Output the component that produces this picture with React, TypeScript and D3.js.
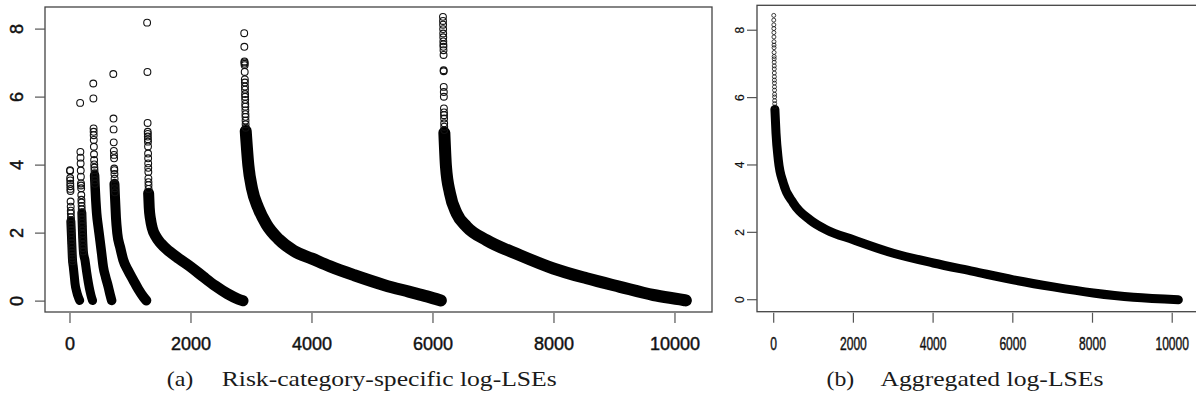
import React, { useEffect, useRef } from 'react';
import * as d3 from 'd3';

// tick values shared by both panels
const xTicks = [0, 2000, 4000, 6000, 8000, 10000];
const yTicks = [0, 2, 4, 6, 8];

// (a) risk-category-specific log-LSEs, [rank, value]
// sparse = isolated circles at the top of each category, band = dense part
const cat1Sparse = [[1, 3.85], [2, 3.83], [3, 3.62], [4, 3.55], [5, 3.45], [6, 3.38], [7, 3.3], [8, 3.24], [10, 2.93], [12, 2.78], [13, 2.66], [14, 2.58], [16, 2.47], [17, 2.38], [19, 2.27], [20, 2.18], [22, 2.09], [23, 2.0], [25, 1.9], [27, 1.8], [29, 1.7], [31, 1.6], [33, 1.5], [35, 1.42], [37, 1.33], [39, 1.25], [42, 1.17]];
const cat1Band = [[14, 2.35], [22, 2.0], [30, 1.68], [40, 1.25], [55, 1.0], [70, 0.75], [83, 0.52], [110, 0.28], [137, 0.12], [160, 0.02]];

const cat2Sparse = [[168, 5.83], [172, 4.39], [174, 4.22], [176, 4.05], [178, 3.84], [180, 3.66], [182, 3.46], [183, 3.4], [185, 3.32], [187, 3.12], [189, 2.98], [190, 2.9], [192, 2.8], [194, 2.7], [196, 2.6], [198, 2.5], [200, 2.4], [202, 2.3], [204, 2.2], [206, 2.08], [208, 1.98], [210, 1.88], [212, 1.77], [214, 1.66], [216, 1.56], [218, 1.46]];
const cat2Band = [[196, 2.6], [206, 2.05], [214, 1.7], [222, 1.45], [248, 1.2], [275, 0.86], [303, 0.55], [330, 0.3], [358, 0.1], [373, 0.02]];

const cat3Sparse = [[385, 6.4], [387, 5.96], [390, 5.08], [391, 4.98], [392, 4.88], [393, 4.74], [395, 4.54], [397, 4.32], [399, 4.15], [401, 4.02], [403, 3.93], [405, 3.85], [407, 3.76], [409, 3.66], [411, 3.55], [413, 3.45]];
const cat3Band = [[407, 3.7], [415, 3.36], [427, 2.95], [441, 2.58], [468, 2.17], [496, 1.79], [523, 1.4], [550, 1.01], [590, 0.7], [633, 0.42], [665, 0.18], [689, 0.02]];

const cat4Sparse = [[716, 6.68], [719, 5.37], [721, 5.05], [723, 4.67], [725, 4.42], [727, 4.3], [729, 4.2], [731, 3.9], [733, 3.85], [735, 3.74], [737, 3.6], [739, 3.45], [741, 3.32], [743, 3.2]];
const cat4Band = [[735, 3.45], [744, 3.05], [760, 2.45], [782, 1.99], [830, 1.58], [881, 1.21], [960, 0.9], [1046, 0.62], [1130, 0.35], [1212, 0.13], [1262, 0.02]];

const cat5Sparse = [[1275, 8.19], [1280, 6.74], [1283, 5.24], [1285, 4.98], [1286, 4.92], [1287, 4.84], [1288, 4.76], [1289, 4.69], [1290, 4.55], [1291, 4.34], [1292, 4.2], [1293, 4.05], [1294, 3.92], [1295, 3.8], [1296, 3.61], [1297, 3.5], [1298, 3.41], [1299, 3.3]];
const cat5Band = [[1300, 3.17], [1310, 2.75], [1330, 2.42], [1360, 2.15], [1420, 1.9], [1500, 1.7], [1650, 1.45], [1800, 1.25], [2000, 1.0], [2200, 0.72], [2400, 0.45], [2600, 0.22], [2780, 0.06], [2860, 0.01]];

const cat6Sparse = [[2880, 7.88], [2882, 7.48], [2884, 7.05], [2885, 7.02], [2886, 6.98], [2887, 6.94], [2888, 6.74], [2890, 6.52], [2891, 6.43], [2892, 6.31], [2893, 6.22], [2894, 6.09], [2895, 6.01], [2896, 5.92], [2897, 5.8], [2898, 5.72], [2899, 5.61], [2900, 5.5], [2901, 5.42], [2902, 5.31], [2903, 5.2], [2904, 5.1]];
const cat6Band = [[2905, 5.0], [2948, 4.0], [3010, 3.3], [3110, 2.75], [3250, 2.25], [3450, 1.82], [3700, 1.48], [4000, 1.25], [4300, 1.02], [4700, 0.76], [5200, 0.47], [5600, 0.28], [5900, 0.14], [6130, 0.02]];

const cat7Sparse = [[6165, 8.36], [6166, 8.24], [6167, 8.13], [6168, 8.0], [6169, 7.87], [6170, 7.76], [6171, 7.64], [6172, 7.55], [6173, 7.48], [6174, 7.38], [6175, 7.24], [6176, 6.79], [6177, 6.76], [6178, 6.3], [6179, 6.15], [6180, 6.01], [6181, 5.67], [6182, 5.55], [6183, 5.47], [6184, 5.37], [6185, 5.23], [6186, 5.13], [6187, 5.03]];
const cat7Band = [[6188, 4.95], [6215, 3.95], [6281, 3.17], [6391, 2.58], [6557, 2.19], [6887, 1.79], [7438, 1.35], [7989, 0.96], [8540, 0.67], [9091, 0.42], [9642, 0.18], [10083, 0.05], [10180, 0.02]];

// (b) aggregated log-LSEs
const aggSparse = [[1, 8.44], [2, 8.3], [3, 8.16], [4, 8.05], [5, 7.93], [6, 7.8], [7, 7.66], [8, 7.56], [9, 7.48], [10, 7.34], [11, 7.22], [12, 7.15], [13, 7.05], [14, 6.94], [15, 6.85], [16, 6.73], [17, 6.62], [18, 6.52], [19, 6.43], [20, 6.32], [21, 6.22], [22, 6.1], [23, 6.02], [24, 5.91], [25, 5.82], [27, 5.72]];
const aggBand = [[30, 5.65], [58, 4.94], [116, 4.15], [241, 3.46], [492, 2.87], [911, 2.37], [1330, 2.07], [1998, 1.78], [3002, 1.38], [4005, 1.09], [5009, 0.84], [6013, 0.59], [7016, 0.38], [8020, 0.2], [9024, 0.07], [10154, 0.0]];

const captionA = ['(a)', 'Risk-category-specific log-LSEs'];
const captionB = ['(b)', 'Aggregated log-LSEs'];

const App = () => {
  const svgRef = useRef<SVGSVGElement>(null);

  useEffect(() => {
    drawChart();
  }, []);

  const drawChart = () => {
    const svg = d3.select(svgRef.current);
    svg.selectAll('*').remove();

    const sans = '"Liberation Sans", Arial, sans-serif';
    const serif = '"Liberation Serif", "DejaVu Serif", serif';

    const drawPanel = (opts: any) => {
      const { x, y, box, sparse, bands, r, bandWidths, yLabelX, yLabelSize, xLabelScale } = opts;
      const g = svg.append('g');

      const line = d3.line<number[]>()
        .x(d => x(d[0]))
        .y(d => y(d[1]))
        .curve(d3.curveMonotoneX);

      bands.forEach((b: number[][], i: number) => {
        g.append('path')
          .datum(b)
          .attr('fill', 'none')
          .attr('stroke', '#000')
          .attr('stroke-width', bandWidths[i])
          .attr('stroke-linecap', 'round')
          .attr('stroke-linejoin', 'round')
          .attr('d', line);
      });

      g.selectAll('circle.pt')
        .data(sparse)
        .enter()
        .append('circle')
        .attr('class', 'pt')
        .attr('cx', (d: number[]) => x(d[0]))
        .attr('cy', (d: number[]) => y(d[1]))
        .attr('r', r)
        .attr('fill', 'none')
        .attr('stroke', '#111')
        .attr('stroke-width', r > 3 ? 1.1 : 0.8);

      // box
      g.append('rect')
        .attr('x', box.left)
        .attr('y', box.top)
        .attr('width', box.right - box.left)
        .attr('height', box.bottom - box.top)
        .attr('fill', 'none')
        .attr('stroke', '#444')
        .attr('stroke-width', 1.3);

      // x axis
      xTicks.forEach(t => {
        g.append('line')
          .attr('x1', x(t)).attr('x2', x(t))
          .attr('y1', box.bottom + 1).attr('y2', box.bottom + 11)
          .attr('stroke', '#555').attr('stroke-width', 1.2);
        g.append('text')
          .attr('transform', `translate(${x(t)},350) scale(${xLabelScale},1)`)
          .attr('text-anchor', 'middle')
          .attr('font-family', sans)
          .attr('font-size', 18)
          .attr('fill', '#111')
          .attr('stroke', '#111')
          .attr('stroke-width', 0.45)
          .text(t);
      });

      // y axis
      yTicks.forEach(t => {
        g.append('line')
          .attr('x1', box.left - 10).attr('x2', box.left)
          .attr('y1', y(t)).attr('y2', y(t))
          .attr('stroke', '#555').attr('stroke-width', 1.2);
        g.append('text')
          .attr('transform', `translate(${yLabelX},${y(t)}) rotate(-90)`)
          .attr('text-anchor', 'middle')
          .attr('font-family', sans)
          .attr('font-size', yLabelSize)
          .attr('fill', '#111')
          .attr('stroke', '#111')
          .attr('stroke-width', yLabelSize > 14 ? 0.45 : 0.2)
          .text(t);
      });
    };

    const xL = d3.scaleLinear().domain([-413, 10612]).range([45, 712]);
    const yL = d3.scaleLinear().domain([-0.32, 8.65]).range([312, 7]);
    drawPanel({
      x: xL, y: yL,
      box: { left: 45, right: 712, top: 7, bottom: 312 },
      sparse: [...cat1Sparse, ...cat2Sparse, ...cat3Sparse, ...cat4Sparse, ...cat5Sparse, ...cat6Sparse, ...cat7Sparse],
      bands: [cat1Band, cat2Band, cat3Band, cat4Band, cat5Band, cat6Band, cat7Band],
      bandWidths: [9, 9, 9.5, 10, 11, 12, 12],
      r: 3.4, yLabelX: 23, yLabelSize: 18, xLabelScale: 1,
    });

    const xR = d3.scaleLinear().domain([-419, 10622]).range([757, 1197]);
    const yR = d3.scaleLinear().domain([-0.356, 8.74]).range([311.7, 5.3]);
    drawPanel({
      x: xR, y: yR,
      box: { left: 757, right: 1197, top: 5.3, bottom: 311.7 },
      sparse: aggSparse,
      bands: [aggBand],
      bandWidths: [9],
      r: 2, yLabelX: 744, yLabelSize: 12, xLabelScale: 0.67,
    });

    // captions
    const caps = [
      { c: captionA, x1: 166.7, w1: 26.7, x2: 221.7, w2: 335 },
      { c: captionB, x1: 826.5, w1: 27.7, x2: 880.5, w2: 223 },
    ];
    caps.forEach(k => {
      svg.append('text')
        .attr('x', k.x1).attr('y', 385.5)
        .attr('font-family', serif).attr('font-size', 21)
        .attr('textLength', k.w1).attr('lengthAdjust', 'spacingAndGlyphs')
        .attr('fill', '#1a1a1a')
        .text(k.c[0]);
      svg.append('text')
        .attr('x', k.x2).attr('y', 385.5)
        .attr('font-family', serif).attr('font-size', 21)
        .attr('textLength', k.w2).attr('lengthAdjust', 'spacingAndGlyphs')
        .attr('fill', '#1a1a1a')
        .text(k.c[1]);
    });
  };

  return (
    <svg
      ref={svgRef}
      width={1196}
      height={407}
      style={{ position: 'absolute', left: 0, top: 0, background: '#fff' }}
    ></svg>
  );
};

export default App;
